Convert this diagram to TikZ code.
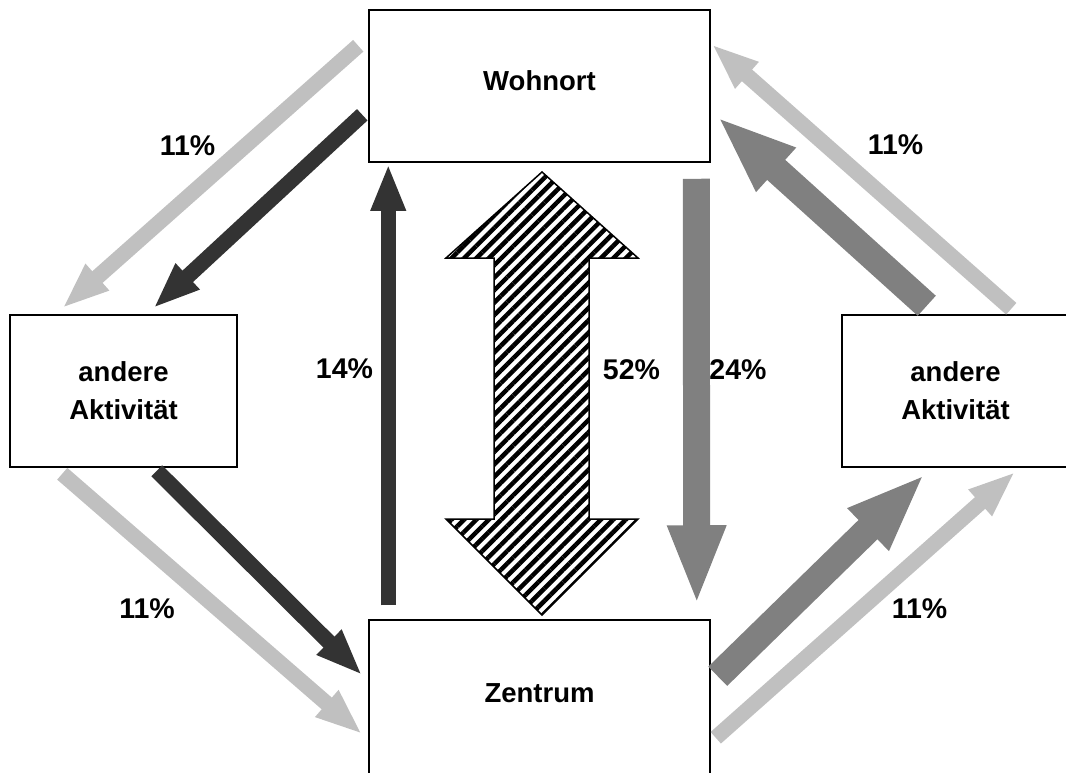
\documentclass[tikz,border=0pt]{standalone}
\usepackage{fontspec}
\setmainfont{Liberation Sans}
\usetikzlibrary{arrows.meta,patterns.meta}
\definecolor{hellgrau}{RGB}{192,192,192}
\definecolor{mittelgrau}{RGB}{128,128,128}
\definecolor{dunkelgrau}{RGB}{51,51,51}

\begin{document}
\begin{tikzpicture}[x=1pt,y=1pt]
	\tikzstyle{every node}+=[inner sep=0pt]
	\tikzstyle{ort}=[draw=black,line width=1.5pt,minimum height=152pt,align=center,font=\fontsize{27.5}{38}\selectfont\bfseries]
	\tikzstyle{einzeilig}=[text depth=10pt]
	\tikzstyle{anteil}=[font=\fontsize{28.5}{32}\selectfont\bfseries]
	\tikzstyle{schmal}=[line width=15.5pt,-{Triangle[length=47pt,width=32pt]}]
	\tikzstyle{breit}=[line width=27pt,-{Triangle[length=80pt,width=53pt]}]
	\useasboundingbox (0,0) rectangle (1066,-772);
	% Orte
	\node [ort,einzeilig,minimum width=341pt] (wohnort) at (539.5,-86) {Wohnort};
	\node [ort,minimum width=227pt] (links) at (123.5,-391) {andere\\Aktivit\"at};
	\node [ort,minimum width=227pt] (rechts) at (955.5,-391) {andere\\Aktivit\"at};
	\node [ort,einzeilig,minimum width=341pt,minimum height=156pt] (zentrum) at (539.5,-698) {Zentrum};
	% Wege links
	\draw [schmal,hellgrau] ([shift={(-10,-36.5)}]wohnort.north west) -- ([shift={(53,6)}]links.north west);
	\draw [schmal,dunkelgrau] ([shift={(-6,-105.5)}]wohnort.north west) -- ([shift={(144,6)}]links.north west);
	\draw [schmal,hellgrau] ([shift={(53,-6)}]links.south west) -- ([shift={(-6,-115)}]zentrum.north west);
	\draw [schmal,dunkelgrau] ([shift={(147.5,-3)}]links.south west) -- ([shift={(-6,-56)}]zentrum.north west);
	% Wege Mitte
	\draw [schmal,dunkelgrau] ([shift={(20,14)}]zentrum.north west) -- ([shift={(20,-1)}]wohnort.south west);
	\draw [breit,mittelgrau] ([shift={(-14.5,-16)}]wohnort.south east) -- ([shift={(-14,14)}]zentrum.north east);
	\draw [line width=1.5pt,pattern={Lines[angle=45,distance=8.8pt,line width=4.5pt]}]
		(542,-172) -- (638,-258) -- (589,-258) -- (589,-519) -- (638,-519) -- (542,-615)
		-- (446,-519) -- (494,-519) -- (494,-258) -- (446,-258) -- cycle;
	% Wege rechts
	\draw [breit,mittelgrau] ([shift={(85.5,8.5)}]rechts.north west) -- ([shift={(6,-107)}]wohnort.north east);
	\draw [schmal,hellgrau] ([shift={(170,5.5)}]rechts.north west) -- ([shift={(1,-35)}]wohnort.north east);
	\draw [breit,mittelgrau] ([shift={(7,-57)}]zentrum.north east) -- ([shift={(84,-6)}]rechts.south west);
	\draw [schmal,hellgrau] ([shift={(5,-118.5)}]zentrum.north east) -- ([shift={(174,-4)}]rechts.south west);
	% Anteile
	\node [anteil] (p1) at (187.5,-146) {11\%};
	\node [anteil] (p2) at (895.5,-145) {11\%};
	\node [anteil] (p3) at (147,-609) {11\%};
	\node [anteil] (p4) at (919.5,-609) {11\%};
	\node [anteil] (p5) at (344.5,-369) {14\%};
	\node [anteil] (p6) at (631.5,-370) {52\%};
	\node [anteil] (p7) at (738,-370) {24\%};
\end{tikzpicture}
\end{document}
